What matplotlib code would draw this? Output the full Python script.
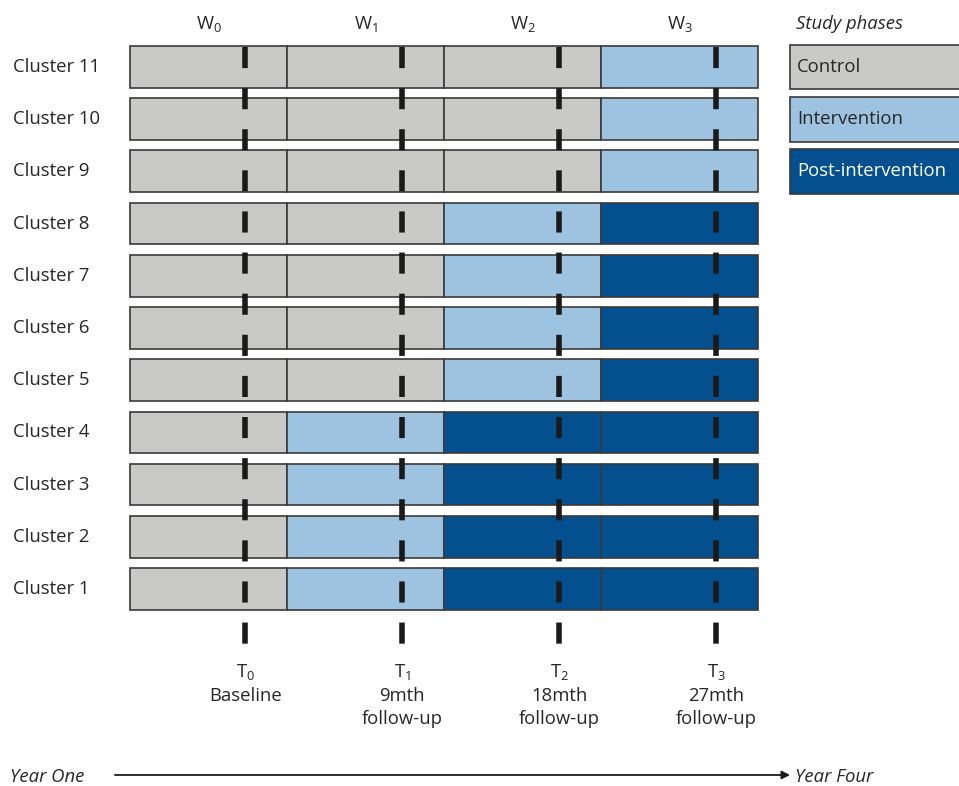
import matplotlib.pyplot as plt
from matplotlib.patches import Rectangle

plt.rcParams['font.family'] = ['Open Sans', 'DejaVu Sans']
plt.rcParams['mathtext.fontset'] = 'custom'
plt.rcParams['mathtext.rm'] = 'Open Sans'
plt.rcParams['lines.scale_dashes'] = False

# phase of each cluster in each time window: 0 control, 1 intervention, 2 post-intervention
clusters = [11, 10, 9, 8, 7, 6, 5, 4, 3, 2, 1]
phases = [
    [0, 0, 0, 1],
    [0, 0, 0, 1],
    [0, 0, 0, 1],
    [0, 0, 1, 2],
    [0, 0, 1, 2],
    [0, 0, 1, 2],
    [0, 0, 1, 2],
    [0, 1, 2, 2],
    [0, 1, 2, 2],
    [0, 1, 2, 2],
    [0, 1, 2, 2],
]
windows = ['W$_0$', 'W$_1$', 'W$_2$', 'W$_3$']
phase_names = ['Control', 'Intervention', 'Post-intervention']
timepoints = ['T$_0$\nBaseline', 'T$_1$\n9mth\nfollow-up',
              'T$_2$\n18mth\nfollow-up', 'T$_3$\n27mth\nfollow-up']

colors = ['#C9C9C7', '#9EC3E0', '#04508F']
text_colors = ['#262626', '#262626', 'white']
edge = '#3a3a3a'
fs = 13.3

fig = plt.figure(figsize=(9.59, 7.86), dpi=100)
ax = fig.add_axes([0, 0, 1, 1])
ax.set_xlim(-0.828, 5.280)
ax.set_ylim(-2.774, 12.283)
ax.axis('off')

bar_h = 0.80
for c, row in zip(clusters, phases):
    for w, p in enumerate(row):
        ax.add_patch(Rectangle((w, c - bar_h / 2), 1, bar_h, facecolor=colors[p],
                               edgecolor=edge, linewidth=1.2))
    ax.text(-0.745, c, f'Cluster {c}', ha='left', va='center', fontsize=fs, color='#262626')

# measurement time points (dashed lines)
t_off = 0.735
for w in range(4):
    ax.plot([w + t_off, w + t_off], [11.38, -0.06], color='#1a1a1a', linewidth=4.0,
            dashes=(15.2, 14.4), solid_capstyle='butt', dash_capstyle='butt', zorder=5)
    ax.text(w + 0.5, 11.83, windows[w], ha='center', va='center', fontsize=fs, color='#262626')
    ax.text(w + t_off, -0.40, timepoints[w], ha='center', va='top', fontsize=fs,
            color='#262626', linespacing=1.36)

# legend
ax.text(4.24, 11.83, 'Study phases', ha='left', va='center', fontsize=fs,
        style='italic', color='#262626')
leg_h = 0.86
for i, name in enumerate(phase_names):
    y = 11 - i
    ax.add_patch(Rectangle((4.204, y - leg_h / 2), 1.2, leg_h, facecolor=colors[i],
                           edgecolor=edge, linewidth=1.2, clip_on=False))
    ax.text(4.25, y, name, ha='left', va='center', fontsize=fs, color=text_colors[i])

# time arrow
ax.annotate('', xy=(4.204, -2.563), xytext=(-0.096, -2.563),
            arrowprops=dict(arrowstyle='-|>', color='#1a1a1a', lw=1.3,
                            mutation_scale=12, shrinkA=0, shrinkB=0))
ax.text(-0.764, -2.60, 'Year One', ha='left', va='center', fontsize=fs,
        style='italic', color='#262626')
ax.text(4.235, -2.60, 'Year Four', ha='left', va='center', fontsize=fs,
        style='italic', color='#262626')

fig.savefig('out.png', dpi=100)
